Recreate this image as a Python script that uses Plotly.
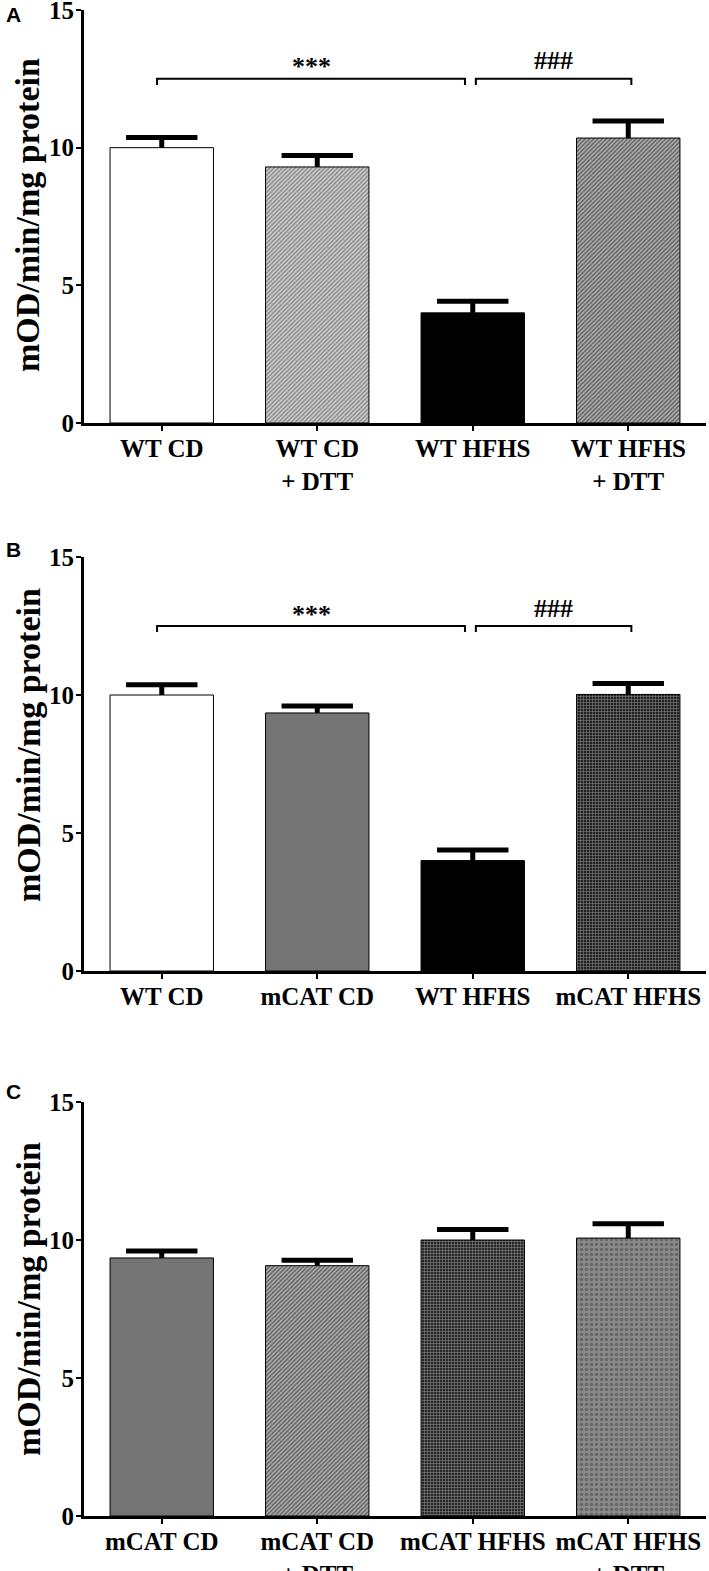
import plotly.graph_objects as go

W, H = 709, 1571

# ---- data ----
cats_a = ["WT CD", "WT CD<br>+ DTT", "WT HFHS", "WT HFHS<br>+ DTT"]
vals_a = [10.0, 9.3, 4.0, 10.35]
err_a = [0.37, 0.42, 0.42, 0.62]

cats_b = ["WT CD", "mCAT CD", "WT HFHS", "mCAT HFHS"]
vals_b = [10.0, 9.35, 4.0, 10.02]
err_b = [0.37, 0.25, 0.38, 0.40]

cats_c = ["mCAT CD", "mCAT CD<br>+ DTT", "mCAT HFHS", "mCAT HFHS<br>+ DTT"]
vals_c = [9.35, 9.07, 10.0, 10.07]
err_c = [0.25, 0.2, 0.38, 0.52]

y_ticks = [0, 5, 10, 15]
# significance brackets: (from group, to group, label)
sig_a = [(0, 2, "***"), (2, 3, "###")]
sig_b = [(0, 2, "***"), (2, 3, "###")]
bracket_level = 12.5

# styles per bar: (bg color, pattern shape, fg color, size, solidity)
style_a = [("white", "", "black", 3, 0.5), ("#d0d0d0", "/", "#777777", 3, 0.5),
           ("black", "", "black", 3, 0.5), ("#585858", "/", "#161616", 3, 0.6)]
style_b = [("white", "", "black", 3, 0.5), ("#747474", "", "black", 3, 0.5),
           ("black", "", "black", 3, 0.5), ("#222222", "+", "#666666", 3, 0.3)]
style_c = [("#747474", "", "black", 3, 0.5), ("#5c5c5c", "/", "#1a1a1a", 3, 0.55),
           ("#282828", "+", "#626262", 3, 0.3), ("#8a8a8a", ".", "#484848", 5, 0.4)]

panels = [
    (cats_a, vals_a, err_a, style_a, sig_a, "A", (423, 10)),
    (cats_b, vals_b, err_b, style_b, sig_b, "B", (971, 557)),
    (cats_c, vals_c, err_c, style_c, [], "C", (1516, 1102)),
]
title_centers = [215, 745, 1299]
label_pos = [(13, 15), (13, 549), (13, 1091)]

fig = go.Figure()
serif = "Liberation Serif"
x_left, x_right = 84, 706

annotations = []
for i, (cats, vals, errs, style, sigs, lab, (y0px, y15px)) in enumerate(panels):
    k = "" if i == 0 else str(i + 1)
    xs = list(range(len(cats)))
    fig.add_trace(go.Bar(
        x=xs, y=vals, width=0.665,
        xaxis="x" + k, yaxis="y" + k,
        marker=dict(
            color=[s[0] for s in style],
            line=dict(color="black", width=1),
            pattern=dict(shape=[s[1] for s in style],
                         fgcolor=[s[2] for s in style],
                         size=[s[3] for s in style],
                         solidity=[s[4] for s in style]),
        ),
        error_y=dict(type="data", array=errs, arrayminus=[0] * len(errs),
                     symmetric=False, color="black", thickness=5, width=0),
        showlegend=False, hoverinfo="skip",
    ))
    # error bar caps (upper only)
    fig.add_trace(go.Scatter(
        x=xs, y=[v + e for v, e in zip(vals, errs)], mode="markers",
        marker=dict(symbol="line-ew", size=51,
                    line=dict(color="black", width=5)),
        xaxis="x" + k, yaxis="y" + k, showlegend=False, hoverinfo="skip"))
    for (a, b, txt) in sigs:
        xa = a - 0.03 if a == 0 else a + 0.02
        xb = b - 0.05 if b == 2 else b + 0.02
        fig.add_trace(go.Scatter(
            x=[xa, xa, xb, xb],
            y=[bracket_level - 0.22, bracket_level, bracket_level, bracket_level - 0.22],
            mode="lines", line=dict(color="black", width=2),
            xaxis="x" + k, yaxis="y" + k, showlegend=False, hoverinfo="skip"))
        annotations.append(dict(
            x=(xa + xb) / 2, y=bracket_level + 0.05, xref="x" + k, yref="y" + k,
            text=txt, showarrow=False, yanchor="bottom",
            yshift=-6 if txt.startswith("*") else 0,
            font=dict(family=serif, size=26, color="black", weight="bold")))
    dom_y = [1 - y0px / H, 1 - y15px / H]
    axis_common = dict(showline=True, linecolor="black", linewidth=3,
                       ticks="outside", tickcolor="black", tickwidth=2,
                       ticklen=5, showgrid=False, zeroline=False,
                       automargin=False, ticklabeloverflow="allow")
    fig.update_layout(**{
        "xaxis" + k: dict(domain=[x_left / W, x_right / W], range=[-0.5, 3.5],
                          tickvals=xs, ticktext=cats, anchor="y" + k,
                          ticklabelstandoff=-4,
                          tickfont=dict(family=serif, size=25, color="black",
                                        weight="bold"),
                          **axis_common),
        "yaxis" + k: dict(domain=dom_y, range=[0, 15], tickvals=y_ticks,
                          anchor="x" + k, ticklabelstandoff=-3,
                          tickfont=dict(family=serif, size=25, color="black",
                                        weight="bold"),
                          **axis_common),
    })
    annotations.append(dict(
        x=28 / W, y=1 - title_centers[i] / H, xref="paper", yref="paper",
        text="mOD/min/mg protein", textangle=-90, showarrow=False,
        xanchor="center", yanchor="middle",
        font=dict(family=serif, size=34, color="black", weight="bold")))
    lx, ly = label_pos[i]
    annotations.append(dict(
        x=lx / W, y=1 - ly / H, xref="paper", yref="paper", text=lab,
        showarrow=False, xanchor="center", yanchor="middle",
        font=dict(family="Liberation Sans", size=21, color="black",
                  weight="bold")))

fig.update_layout(
    width=W, height=H, margin=dict(l=0, r=0, t=0, b=0, autoexpand=False),
    plot_bgcolor="white", paper_bgcolor="white",
    bargap=0.3, annotations=annotations,
)

fig.write_html("out.html", config={"displayModeBar": False},
               post_script="document.body.style.margin='0px';"
                           "document.body.style.overflow='hidden';")
